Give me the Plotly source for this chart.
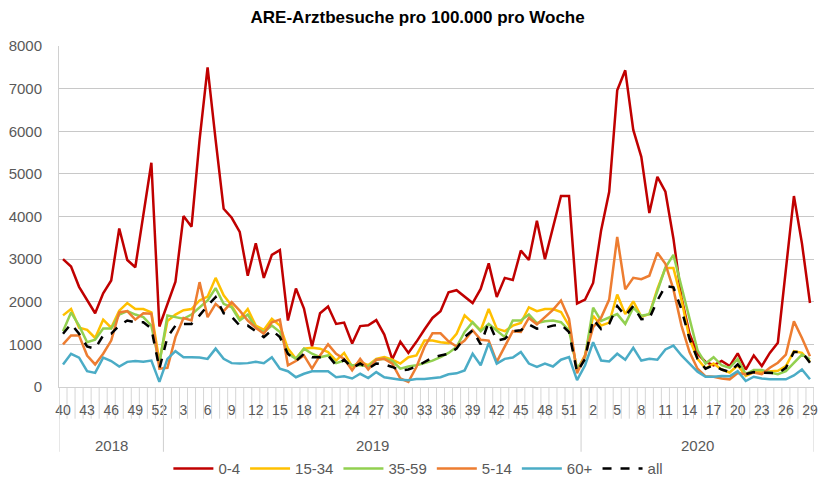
import plotly.graph_objects as go

# Category labels
years = ["2018"] * 13 + ["2019"] * 52 + ["2020"] * 29
weeks = list(range(40, 53)) + list(range(1, 53)) + list(range(1, 30))
year_labels = ["2018", "2019", "2020"]

# Series values (ARE-Arztbesuche pro 100.000 pro Woche)
age_0_4 = [3000, 2825, 2350, 2050, 1730, 2200, 2500, 3720, 2980, 2810, 4000, 5260, 1420,
           1970, 2470, 4010, 3760, 5800, 7500, 5800, 4180, 3970, 3640, 2610, 3370, 2560, 3100,
           3210, 1560, 2310, 1840, 950, 1730, 1890, 1480, 1510, 1020, 1430, 1450, 1570, 1230,
           650, 1060, 800, 1060, 1350, 1620, 1780, 2220, 2270, 2110, 1970, 2300, 2900, 2110,
           2560, 2510, 3200, 2980, 3900, 3000, 3770, 4480, 4480, 1960,
           2050, 2440, 3680, 4580, 6960, 7430, 6030, 5400, 4080, 4930, 4580, 3480, 2100, 1250,
           780, 590, 510, 610, 490, 790, 410, 740, 490, 800, 1040, 2800, 4480, 3370, 1970]
age_15_34 = [1680, 1830, 1390, 1340, 1150, 1580, 1390, 1790, 1970, 1830, 1830, 1750, 600,
             1550, 1700, 1800, 1830, 2030, 2120, 2560, 2150, 1910, 1600, 1830, 1440, 1340, 1600,
             1440, 900, 660, 900, 920, 900, 820, 620, 800, 480, 590, 510, 660, 700,
             640, 550, 700, 740, 1090, 1090, 1050, 1030, 1250, 1680, 1500, 1330, 1830, 1370,
             1310, 1440, 1500, 1870, 1780, 1830, 1830, 1760, 1440, 390,
             750, 1670, 1440, 1510, 2170, 1710, 2010, 1650, 1710, 2300, 2790, 2790, 2050, 1130,
             660, 430, 550, 410, 340, 510, 260, 350, 350, 360, 380, 490, 840, 800, 590]
age_35_59 = [1310, 1750, 1440, 1050, 1110, 1370, 1370, 1700, 1780, 1700, 1640, 1440, 550,
             1680, 1640, 1600, 1700, 1870, 2030, 2320, 1950, 1870, 1560, 1700, 1390, 1290, 1440,
             1290, 780, 660, 900, 780, 700, 740, 560, 620, 510, 510, 480, 640, 660,
             610, 430, 480, 510, 560, 620, 700, 800, 940, 1290, 1520, 1310, 1480, 1330,
             1170, 1560, 1560, 1700, 1500, 1540, 1560, 1520, 1330, 430,
             700, 1860, 1550, 1630, 1710, 1480, 1860, 1670, 1710, 2250, 2800, 3100, 2360, 1590,
             860, 550, 700, 510, 450, 660, 300, 400, 400, 340, 300, 370, 570, 760, 650]
age_5_14 = [1000, 1210, 1210, 740, 530, 780, 1090, 1750, 1780, 1580, 1730, 1720, 430,
            450, 1170, 1620, 1560, 2460, 1640, 1950, 1780, 1990, 1790, 1560, 1390, 1250, 1520,
            1580, 510, 610, 740, 430, 740, 1000, 780, 660, 390, 660, 410, 640, 660,
            550, 200, 120, 470, 940, 1260, 1260, 1070, 950, 1090, 1330, 1110, 1090, 590,
            950, 1310, 1290, 1620, 1470, 1640, 1810, 2030, 1600, 320,
            740, 1400, 1630, 2050, 3520, 2290, 2560, 2530, 2610, 3150, 2890, 2290, 1440, 820,
            430, 250, 240, 200, 180, 330, 300, 340, 300, 450, 570, 760, 1540, 1150, 720]
age_60plus = [530, 780, 690, 370, 330, 690, 610, 480, 590, 610, 590, 620, 120,
              660, 840, 700, 700, 690, 660, 900, 660, 560, 550, 560, 590, 560, 700,
              430, 370, 230, 310, 370, 370, 370, 230, 250, 200, 310, 210, 350, 230,
              200, 170, 160, 190, 190, 210, 230, 300, 320, 390, 780, 510, 1030, 550,
              660, 690, 820, 550, 470, 550, 480, 640, 700, 160,
              510, 1050, 620, 600, 780, 640, 920, 620, 660, 640, 880, 970, 740, 550,
              360, 240, 240, 260, 250, 370, 140, 240, 200, 180, 180, 180, 270, 410, 180]
age_all = [1250, 1480, 1250, 950, 900, 1210, 1250, 1440, 1560, 1520, 1520, 1370, 430,
           1170, 1440, 1480, 1480, 1680, 1910, 2110, 1730, 1650, 1440, 1440, 1310, 1170, 1330,
           1170, 780, 610, 780, 700, 700, 740, 510, 640, 450, 550, 430, 550, 530,
           470, 390, 410, 480, 590, 690, 740, 780, 900, 1170, 1330, 1000, 1520, 1090,
           1130, 1310, 1330, 1470, 1370, 1390, 1440, 1470, 1290, 350,
           660, 1590, 1360, 1480, 1900, 1670, 1900, 1590, 1610, 2030, 2370, 2340, 1820, 1130,
           660, 430, 510, 410, 350, 530, 300, 350, 340, 335, 320, 450, 820, 820, 570]

series = [
    ("0-4", age_0_4, "#C00000", "solid"),
    ("15-34", age_15_34, "#FFC000", "solid"),
    ("35-59", age_35_59, "#92D050", "solid"),
    ("5-14", age_5_14, "#ED7D31", "solid"),
    ("60+", age_60plus, "#4BACC6", "solid"),
    ("all", age_all, "#000000", "dash"),
]

n = len(weeks)
xs = list(range(n))

fig = go.Figure()
for name, vals, color, dash in series:
    fig.add_trace(go.Scatter(x=xs, y=vals, mode="lines", name=name, cliponaxis=False,
                             line=dict(color=color, width=2.5, dash=dash)))

# year boundaries and centers from the category lists
bounds = [-0.5]
centers = []
start = 0
for k in range(1, n + 1):
    if k == n or years[k] != years[k - 1]:
        bounds.append(k - 0.5)
        centers.append((start + k - 1) / 2)
        start = k

font_col = "#595959"
FONT = "Liberation Sans, Arial, sans-serif"

shapes = []
for b in bounds:
    shapes.append(dict(type="line", xref="x", yref="paper", x0=b, x1=b, y0=0, y1=-0.19,
                       line=dict(color="#CFCFCF", width=1)))
# category tick marks below the axis (one at every category boundary)
for k in range(n + 1):
    shapes.append(dict(type="line", xref="x", yref="paper", x0=k - 0.5, x1=k - 0.5,
                       y0=0, y1=-0.093, line=dict(color="#D6D6D6", width=1), layer="below"))

annotations = []
for c, yl in zip(centers, year_labels):
    annotations.append(dict(x=c, y=-0.172, xref="x", yref="paper", text=yl, showarrow=False,
                            yanchor="middle", font=dict(size=15, color=font_col, family=FONT)))

tickvals = [i for i in xs if i % 3 == 0]
ticktext = [str(weeks[i]) for i in tickvals]

fig.update_layout(
    width=819, height=482,
    margin=dict(l=59, r=5, t=46, b=95, autoexpand=False),
    paper_bgcolor="white", plot_bgcolor="white",
    font=dict(family=FONT, size=15, color=font_col),
    title=dict(text="<b>ARE-Arztbesuche pro 100.000 pro Woche</b>", x=0.475, xref="paper",
               y=1 - 17 / 482, yref="container", xanchor="center", yanchor="middle",
               font=dict(size=17, color="#000000", family=FONT)),
    showlegend=True,
    legend=dict(orientation="h", x=0.476, xanchor="center", y=-0.24, yanchor="middle",
                font=dict(size=15, color=font_col, family=FONT), itemwidth=40,
                bgcolor="rgba(0,0,0,0)"),
    shapes=shapes,
    annotations=annotations,
    hovermode=False,
)
fig.update_xaxes(range=[-0.5, n - 0.5], tickmode="array", tickvals=tickvals, ticktext=ticktext,
                 ticks="outside", ticklen=10, tickcolor="rgba(0,0,0,0)", tickangle=0,
                 showgrid=False, zeroline=False, showline=True, linecolor="#D0D0D0", linewidth=1,
                 automargin=False, tickfont=dict(size=14, color=font_col))
fig.update_yaxes(range=[0, 8000], dtick=1000, showgrid=True, gridcolor="#C8C8C8", gridwidth=1,
                 zeroline=False, showline=True, linecolor="#D0D0D0", linewidth=1,
                 automargin=False, ticks="outside", ticklen=13, tickcolor="rgba(0,0,0,0)",
                 tickfont=dict(size=15, color=font_col))

fig.write_html("out.html", config={"displayModeBar": False},
               post_script="document.body.style.margin='0';document.body.style.overflow='hidden';")
